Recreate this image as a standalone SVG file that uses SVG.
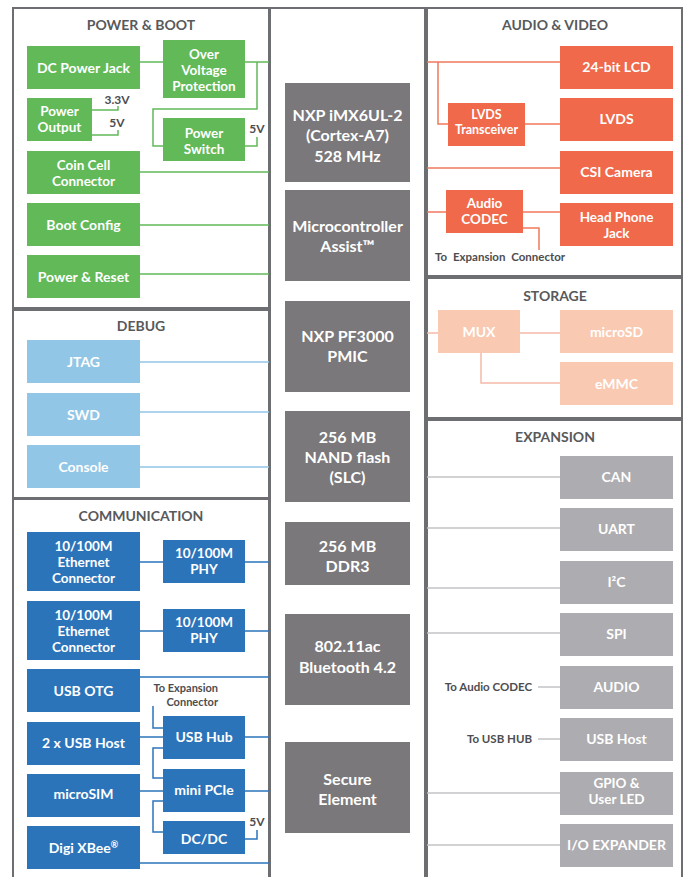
<svg xmlns="http://www.w3.org/2000/svg" width="686" height="877" viewBox="0 0 686 877">
<style>
text{font-family:Lato,"Liberation Sans",sans-serif;font-weight:700;text-anchor:middle}
.panel{fill:#fff;stroke:#6d6e71;stroke-width:2}
.title{fill:#58595b;font-size:14px}
.nt{fill:#fff;font-size:14px}
.mt{fill:#fff;font-size:13.5px}
.ct{fill:#fff;font-size:16px}
.st{fill:#fff;font-size:12.5px}
.lab{fill:#4d4d4f;font-size:12px}
.g rect{fill:#61b958}.b rect{fill:#92c6e6}.d rect{fill:#2b74ba}.c rect{fill:#7a787a}
.o rect{fill:#f0694a}.p rect{fill:#f9c9b1}.x rect{fill:#adacb0}
.l{fill:none;stroke-width:1.5}
.lg{stroke:#61b958}.lb{stroke:#92c6e6}.ld{stroke:#2b74ba}.lo{stroke:#f0785c}.lp{stroke:#f3bba9}.lx{stroke:#c4c4c6}
</style>
<rect width="686" height="877" fill="#fff"/>
<g id="panels">
<rect class="panel" x="13" y="8" width="256" height="300"/>
<rect class="panel" x="13" y="310" width="256" height="188"/>
<rect class="panel" x="13" y="499" width="256" height="390"/>
<rect class="panel" x="270" y="8" width="155" height="880"/>
<rect class="panel" x="427" y="8" width="255" height="268"/>
<rect class="panel" x="427" y="278" width="255" height="140"/>
<rect class="panel" x="427" y="420" width="255" height="470"/>
<text class="title" x="141" y="30">POWER &amp; BOOT</text>
<text class="title" x="141" y="331">DEBUG</text>
<text class="title" x="141" y="521">COMMUNICATION</text>
<text class="title" x="555" y="30">AUDIO &amp; VIDEO</text>
<text class="title" x="555" y="301">STORAGE</text>
<text class="title" x="555" y="442">EXPANSION</text>
</g>
<g id="connectors">
<path class="l lg" d="M140,62H163M245,62H269M257,62V109H153V146H163M245,146H257V137M92,110H118V106M92,135H118V130M140,172H269M140,225H269M140,274H269"/>
<path class="l lb" d="M140,362H269M140,412H269M140,467H269"/>
<path class="l ld" d="M140,562H163M245,562H269M140,631H163M245,631H269M140,677H269M153,706V728H163M140,737H163M245,737H269M163,748H153V778H163M140,791H163M245,791H269M163,801H153V832H163M245,839H257V830M140,863H269"/>
<path class="l lo" d="M427,62H560M438,62V124H448M525,124H560M427,168H560M427,212H446M523,212H560M523,228H539V250"/>
<path class="l lp" d="M427,333H438M520,333H560M481,353V383H560"/>
<path class="l lx" d="M427,477H560M427,528H560M427,588H560M427,633H560M538,687H560M538,739H560M427,793H560M427,845H560"/>
</g>
<g id="labels">
<text class="lab" x="117" y="104">3.3V</text>
<text class="lab" x="117" y="127">5V</text>
<text class="lab" x="257" y="133">5V</text>
<text class="lab" x="218" y="692" style="text-anchor:end;font-size:11px">To Expansion</text>
<text class="lab" x="218" y="705.5" style="text-anchor:end;font-size:11px">Connector</text>
<text class="lab" x="257" y="826">5V</text>
<text class="lab" x="435" y="261" style="text-anchor:start;font-size:11.5px;word-spacing:3px">To Expansion Connector</text>
<text class="lab" x="532" y="691" style="text-anchor:end;font-size:11.5px">To Audio CODEC</text>
<text class="lab" x="532" y="743" style="text-anchor:end;font-size:11.5px">To USB HUB</text>
</g>
<g id="dc-power-jack" class="g"><rect x="27" y="46" width="113" height="43"/><text class="nt" x="83.5" y="72.5">DC Power Jack</text></g>
<g id="over-voltage" class="g"><rect x="163" y="40" width="82" height="58"/><text class="mt" x="204" y="59">Over</text><text class="mt" x="204" y="75">Voltage</text><text class="mt" x="204" y="91">Protection</text></g>
<g id="power-output" class="g"><rect x="27" y="98" width="65" height="43"/><text class="mt" x="59.5" y="116">Power</text><text class="mt" x="59.5" y="132">Output</text></g>
<g id="power-switch" class="g"><rect x="163" y="118" width="82" height="43"/><text class="mt" x="204" y="138">Power</text><text class="mt" x="204" y="154">Switch</text></g>
<g id="coin-cell" class="g"><rect x="27" y="151" width="113" height="43"/><text class="mt" x="83.5" y="170">Coin Cell</text><text class="mt" x="83.5" y="186">Connector</text></g>
<g id="boot-config" class="g"><rect x="27" y="203" width="113" height="43"/><text class="nt" x="83.5" y="230">Boot Config</text></g>
<g id="power-reset" class="g"><rect x="27" y="255" width="113" height="43"/><text class="nt" x="83.5" y="282">Power &amp; Reset</text></g>
<g id="jtag" class="b"><rect x="27" y="340" width="113" height="43"/><text class="nt" x="83.5" y="367">JTAG</text></g>
<g id="swd" class="b"><rect x="27" y="393" width="113" height="43"/><text class="nt" x="83.5" y="420">SWD</text></g>
<g id="console" class="b"><rect x="27" y="445" width="113" height="43"/><text class="nt" x="83.5" y="472">Console</text></g>
<g id="eth1" class="d"><rect x="27" y="532" width="113" height="59"/><text class="mt" x="83.5" y="551">10/100M</text><text class="mt" x="83.5" y="567">Ethernet</text><text class="mt" x="83.5" y="583">Connector</text></g>
<g id="phy1" class="d"><rect x="163" y="540" width="82" height="43"/><text class="mt" x="204" y="558">10/100M</text><text class="mt" x="204" y="574">PHY</text></g>
<g id="eth2" class="d"><rect x="27" y="601" width="113" height="59"/><text class="mt" x="83.5" y="620">10/100M</text><text class="mt" x="83.5" y="636">Ethernet</text><text class="mt" x="83.5" y="652">Connector</text></g>
<g id="phy2" class="d"><rect x="163" y="609" width="82" height="43"/><text class="mt" x="204" y="627">10/100M</text><text class="mt" x="204" y="643">PHY</text></g>
<g id="usb-otg" class="d"><rect x="27" y="669" width="113" height="43"/><text class="nt" x="83.5" y="696">USB OTG</text></g>
<g id="usb-hub" class="d"><rect x="163" y="716" width="82" height="43"/><text class="nt" x="204" y="742">USB Hub</text></g>
<g id="usb-host" class="d"><rect x="27" y="722" width="113" height="43"/><text class="nt" x="83.5" y="748">2 x USB Host</text></g>
<g id="mini-pcie" class="d"><rect x="163" y="769" width="82" height="43"/><text class="nt" x="204" y="795">mini PCIe</text></g>
<g id="microsim" class="d"><rect x="27" y="774" width="113" height="43"/><text class="nt" x="83.5" y="799">microSIM</text></g>
<g id="dcdc" class="d"><rect x="163" y="821" width="82" height="33"/><text class="nt" x="204" y="844">DC/DC</text></g>
<g id="xbee" class="d"><rect x="27" y="826" width="113" height="43"/><text class="nt" x="83.5" y="853">Digi XBee<tspan font-size="9" dy="-5">®</tspan></text></g>
<g id="imx6" class="c"><rect x="285" y="83" width="125" height="99"/><text class="ct" x="347.5" y="121">NXP iMX6UL-2</text><text class="ct" x="347.5" y="141">(Cortex-A7)</text><text class="ct" x="347.5" y="162">528 MHz</text></g>
<g id="mca" class="c"><rect x="285" y="190" width="125" height="91"/><text class="ct" x="347.5" y="232">Microcontroller</text><text class="ct" x="347.5" y="252">Assist™</text></g>
<g id="pmic" class="c"><rect x="285" y="301" width="125" height="91"/><text class="ct" x="347.5" y="342">NXP PF3000</text><text class="ct" x="347.5" y="362">PMIC</text></g>
<g id="nand" class="c"><rect x="285" y="411" width="125" height="91"/><text class="ct" x="347.5" y="443">256 MB</text><text class="ct" x="347.5" y="463">NAND flash</text><text class="ct" x="347.5" y="483">(SLC)</text></g>
<g id="ddr3" class="c"><rect x="285" y="522" width="125" height="63"/><text class="ct" x="347.5" y="552">256 MB</text><text class="ct" x="347.5" y="572">DDR3</text></g>
<g id="wifi-bt" class="c"><rect x="285" y="614" width="125" height="91"/><text class="ct" x="347.5" y="652">802.11ac</text><text class="ct" x="347.5" y="673">Bluetooth 4.2</text></g>
<g id="secure" class="c"><rect x="285" y="742" width="125" height="91"/><text class="ct" x="347.5" y="785">Secure</text><text class="ct" x="347.5" y="805">Element</text></g>
<g id="lcd" class="o"><rect x="560" y="46" width="113" height="43"/><text class="nt" x="616.5" y="72">24-bit LCD</text></g>
<g id="lvds" class="o"><rect x="560" y="98" width="113" height="43"/><text class="nt" x="616.5" y="124">LVDS</text></g>
<g id="lvds-tx" class="o"><rect x="448" y="103" width="77" height="43"/><text class="st" x="486.5" y="119">LVDS</text><text class="st" x="486.5" y="134">Transceiver</text></g>
<g id="csi" class="o"><rect x="560" y="151" width="113" height="43"/><text class="nt" x="616.5" y="177">CSI Camera</text></g>
<g id="codec" class="o"><rect x="446" y="190" width="77" height="43"/><text class="mt" x="484.5" y="208">Audio</text><text class="mt" x="484.5" y="224">CODEC</text></g>
<g id="headphone" class="o"><rect x="560" y="203" width="113" height="43"/><text class="mt" x="616.5" y="222">Head Phone</text><text class="mt" x="616.5" y="238">Jack</text></g>
<g id="mux" class="p"><rect x="438" y="310" width="82" height="43"/><text class="nt" x="479" y="337">MUX</text></g>
<g id="microsd" class="p"><rect x="560" y="310" width="113" height="43"/><text class="nt" x="616.5" y="337">microSD</text></g>
<g id="emmc" class="p"><rect x="560" y="362" width="113" height="43"/><text class="nt" x="616.5" y="389">eMMC</text></g>
<g id="can" class="x"><rect x="560" y="456" width="113" height="43"/><text class="nt" x="616.5" y="482">CAN</text></g>
<g id="uart" class="x"><rect x="560" y="508" width="113" height="43"/><text class="nt" x="616.5" y="534">UART</text></g>
<g id="i2c" class="x"><rect x="560" y="561" width="113" height="43"/><text class="nt" x="616.5" y="587">I²C</text></g>
<g id="spi" class="x"><rect x="560" y="613" width="113" height="43"/><text class="nt" x="616.5" y="639">SPI</text></g>
<g id="audio" class="x"><rect x="560" y="666" width="113" height="43"/><text class="nt" x="616.5" y="692">AUDIO</text></g>
<g id="usb-host-exp" class="x"><rect x="560" y="718" width="113" height="43"/><text class="nt" x="616.5" y="744">USB  Host</text></g>
<g id="gpio" class="x"><rect x="560" y="772" width="113" height="43"/><text class="mt" x="616.5" y="788">GPIO &amp;</text><text class="mt" x="616.5" y="804">User LED</text></g>
<g id="io-expander" class="x"><rect x="560" y="824" width="113" height="43"/><text class="nt" x="616.5" y="850">I/O EXPANDER</text></g>
</svg>
